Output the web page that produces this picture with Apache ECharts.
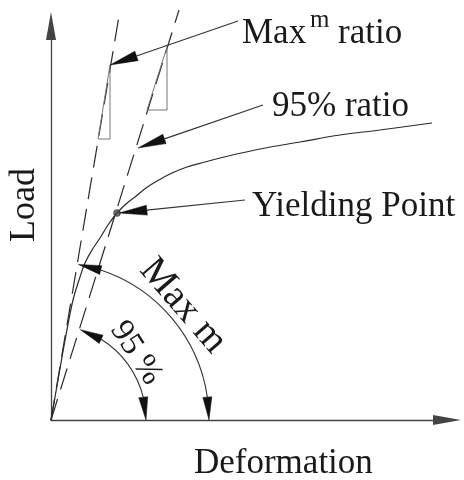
<!DOCTYPE html>
<html><head><meta charset="utf-8">
<script src="https://cdn.jsdelivr.net/npm/echarts@6/dist/echarts.min.js"></script>
<style>html,body{margin:0;padding:0;background:#fff}#c{width:464px;height:480px}</style>
</head><body><div id="c"></div>
<script>
// Load–deformation curve (chart units)
const deformation = [0,0.7,1.5,2.2,2.8,3.4,4.1,4.9,5.7,6.6,7.5,8.4,9.5,10.6,12.1,13.6,15.4,16.9,20.9,24.9,28.9,32.9,38.1];
const load        = [0,4.0,8.5,12.0,14.0,15.7,17.0,18.2,19.5,20.7,21.6,22.3,23.2,23.9,24.7,25.3,25.8,26.2,27.1,27.8,28.5,29.0,29.7];
// secant stiffness lines (start, end)
const maxStiffLine = [[0,0],[6.9,41.0]];
const stiff95Line  = [[0,0],[12.8,41.0]];
// slope triangles
const slopeTriMax = [[4.7,28.1],[5.9,35.5],[5.9,28.1],[4.7,28.1]];
const slopeTri95  = [[9.6,31.0],[11.6,37.3],[11.6,31.0],[9.6,31.0]];
// yielding point
const yieldPoint = [6.6,20.7];
// leader arrows: [fromX, fromY, toX, toY]
const leaders = [[18.7,39.9,5.9,35.5],[21.2,31.5,8.7,27.2],[19.4,22.0,6.8,20.7]];
// angle arcs: [radius, startAngleDeg, endAngleDeg]
const angleArcs = [[15.8,80,0],[9.5,72,0]];

const curve = deformation.map((d,i)=>[d,load[i]]);
const FONT = '"Liberation Serif","Times New Roman",serif';
const INK = '#1a1a1a';

function arrowHead(tip, base, hw, color){
  const dx = tip[0]-base[0], dy = tip[1]-base[1];
  const L = Math.hypot(dx,dy)||1;
  const nx = -dy/L, ny = dx/L;
  return {type:'polygon', shape:{points:[tip,[base[0]+nx*hw,base[1]+ny*hw],[base[0]-nx*hw,base[1]-ny*hw]]},
          style:{fill:color, stroke:color, lineWidth:0.5}};
}

const chart = echarts.init(document.getElementById('c'), null, {renderer:'canvas'});
chart.setOption({
  animation:false,
  backgroundColor:'#fff',
  grid:{left:51, top:26, width:396, height:394},
  xAxis:{type:'value', min:0, max:39.6, axisLine:{show:true, onZero:false, symbol:['none','triangle'], symbolSize:[10,28], lineStyle:{color:'#444', width:1.3}},
         axisTick:{show:false}, axisLabel:{show:false}, splitLine:{show:false}},
  yAxis:{type:'value', min:0, max:39.4, axisLine:{show:true, onZero:false, symbol:['none','triangle'], symbolSize:[10,28], lineStyle:{color:'#444', width:1.3}},
         axisTick:{show:false}, axisLabel:{show:false}, splitLine:{show:false}},
  series:[
    {type:'line', data:curve, smooth:0.4, symbol:'none', clip:false, lineStyle:{color:'#2a2a2a', width:1.2}},
    {type:'line', data:maxStiffLine, symbol:'none', clip:false, lineStyle:{color:'#2a2a2a', width:1.2, type:[22,10]}},
    {type:'line', data:stiff95Line, symbol:'none', clip:false, lineStyle:{color:'#2a2a2a', width:1.2, type:[22,10]}},
    {type:'line', data:slopeTriMax, symbol:'none', clip:false, lineStyle:{color:'#777', width:1}},
    {type:'line', data:slopeTri95, symbol:'none', clip:false, lineStyle:{color:'#777', width:1}},
    {type:'scatter', data:[yieldPoint], symbol:'circle', symbolSize:7, itemStyle:{color:'#444', borderColor:'#222', borderWidth:0.5}, z:5},
    {type:'custom', data:leaders, clip:false, z:6,
      renderItem:function(params, api){
        const p1 = api.coord([api.value(0), api.value(1)]);
        const p2 = api.coord([api.value(2), api.value(3)]);
        const dx=p2[0]-p1[0], dy=p2[1]-p1[1], L=Math.hypot(dx,dy);
        const hl=28, base=[p2[0]-dx/L*hl, p2[1]-dy/L*hl];
        return {type:'group', children:[
          {type:'line', shape:{x1:p1[0],y1:p1[1],x2:base[0],y2:base[1]}, style:{stroke:'#333', lineWidth:1.1}},
          arrowHead(p2, base, 5, '#111')
        ]};
      }},
    {type:'custom', data:angleArcs, clip:false, z:6,
      renderItem:function(params, api){
        const c = api.coord([0,0]);
        const r = api.size([api.value(0),0])[0];
        const a1 = api.value(1)*Math.PI/180, a0 = api.value(2)*Math.PI/180;
        const hl = 23, d = hl/r;
        const pt = a => [c[0]+r*Math.cos(a), c[1]-r*Math.sin(a)];
        return {type:'group', children:[
          {type:'arc', shape:{cx:c[0], cy:c[1], r:r, startAngle:-(a1-d), endAngle:-(a0+d), clockwise:true},
           style:{stroke:'#333', lineWidth:1.1, fill:null}},
          arrowHead(pt(a1), pt(a1-d), 4.5, '#111'),
          arrowHead(pt(a0), pt(a0+d), 4.5, '#111')
        ]};
      }}
  ],
  graphic:[
    {type:'text', x:242, y:34, style:{text:'Max', font:'35px '+FONT, fill:INK, textVerticalAlign:'middle'}},
    {type:'text', x:310, y:20, style:{text:'m', font:'25px '+FONT, fill:INK, textVerticalAlign:'middle'}},
    {type:'text', x:338, y:34, style:{text:'ratio', font:'35px '+FONT, fill:INK, textVerticalAlign:'middle'}},
    {type:'text', x:272, y:107, style:{text:'95% ratio', font:'35px '+FONT, fill:INK, textVerticalAlign:'middle'}},
    {type:'text', x:252, y:207, style:{text:'Yielding Point', font:'35px '+FONT, fill:INK, textVerticalAlign:'middle'}},
    {type:'text', x:194, y:464, style:{text:'Deformation', font:'35px '+FONT, fill:INK, textVerticalAlign:'middle'}},
    {type:'text', x:25, y:205, rotation:Math.PI/2, style:{text:'Load', font:'36px '+FONT, fill:INK, textAlign:'center', textVerticalAlign:'middle'}},
    {type:'text', x:183, y:306, rotation:-49*Math.PI/180, style:{text:'Max m', font:'39px '+FONT, fill:INK, textAlign:'center', textVerticalAlign:'middle'}},
    {type:'text', x:136, y:353, rotation:-57*Math.PI/180, style:{text:'95 %', font:'33px '+FONT, fill:INK, textAlign:'center', textVerticalAlign:'middle'}}
  ]
});
</script></body></html>
